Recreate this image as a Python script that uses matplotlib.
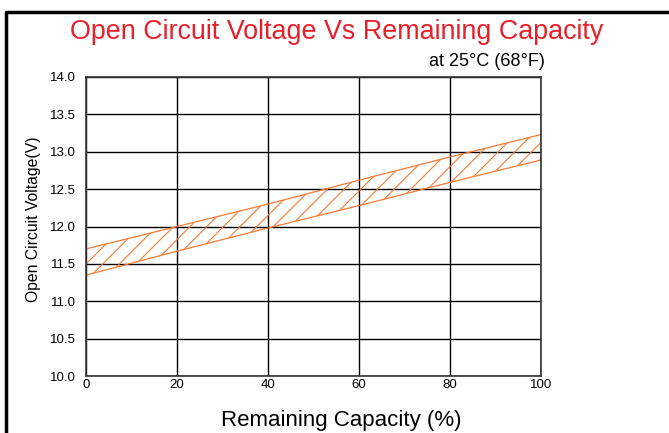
import matplotlib.pyplot as plt
from matplotlib.lines import Line2D

plt.rcParams['font.family'] = ['Liberation Sans', 'DejaVu Sans']
plt.rcParams['hatch.linewidth'] = 0.8

# Remaining capacity (%) and voltage band edges (V)
capacity = [0, 20, 40, 60, 80, 100]
upper_v = [11.70, 12.00, 12.30, 12.62, 12.93, 13.23]
lower_v = [11.35, 11.67, 11.98, 12.28, 12.59, 12.89]

x_ticks = [0, 20, 40, 60, 80, 100]
y_ticks = [10.0, 10.5, 11.0, 11.5, 12.0, 12.5, 13.0, 13.5, 14.0]

fig = plt.figure(figsize=(6.69, 4.33), dpi=100)
ax = fig.add_axes([0.1286, 0.1316, 0.6801, 0.6906])

orange = '#f47b35'
ax.fill_between(capacity, lower_v, upper_v, facecolor='none', edgecolor=orange,
                hatch='//', linewidth=0)
ax.plot(capacity, upper_v, color=orange, lw=0.9)
ax.plot(capacity, lower_v, color=orange, lw=0.9)

ax.set_xlim(0, 100)
ax.set_ylim(10, 14)
ax.set_xticks(x_ticks)
ax.set_yticks(y_ticks)
ax.set_yticklabels([f'{v:.1f}' for v in y_ticks])
ax.tick_params(length=0, labelsize=9.5)
ax.tick_params(axis='y', pad=7)
ax.tick_params(axis='x', pad=2)
ax.grid(True, color='black', lw=1)
ax.set_axisbelow(True)
for s in ax.spines.values():
    s.set_color('#333333')
    s.set_linewidth(1.2)

ax.set_ylabel('Open Circuit Voltage(V)', fontsize=11.3)
ax.yaxis.set_label_coords(-0.1, 0.525)
ax.set_xlabel('Remaining Capacity (%)', fontsize=16)
ax.xaxis.set_label_coords(0.561, -0.115)

fig.text(0.503, 0.925, 'Open Circuit Voltage Vs Remaining Capacity', color='#e8202a',
         fontsize=19.4, ha='center', va='center')
fig.text(0.815, 0.857, 'at 25°C (68°F)', fontsize=13, ha='right', va='center')

# outer frame (left and top edges)
fig.add_artist(Line2D([0.009, 0.009, 1.0], [0.0, 0.972, 0.972],
                      transform=fig.transFigure, color='black', lw=2.5))

fig.savefig('out.png', dpi=100)
